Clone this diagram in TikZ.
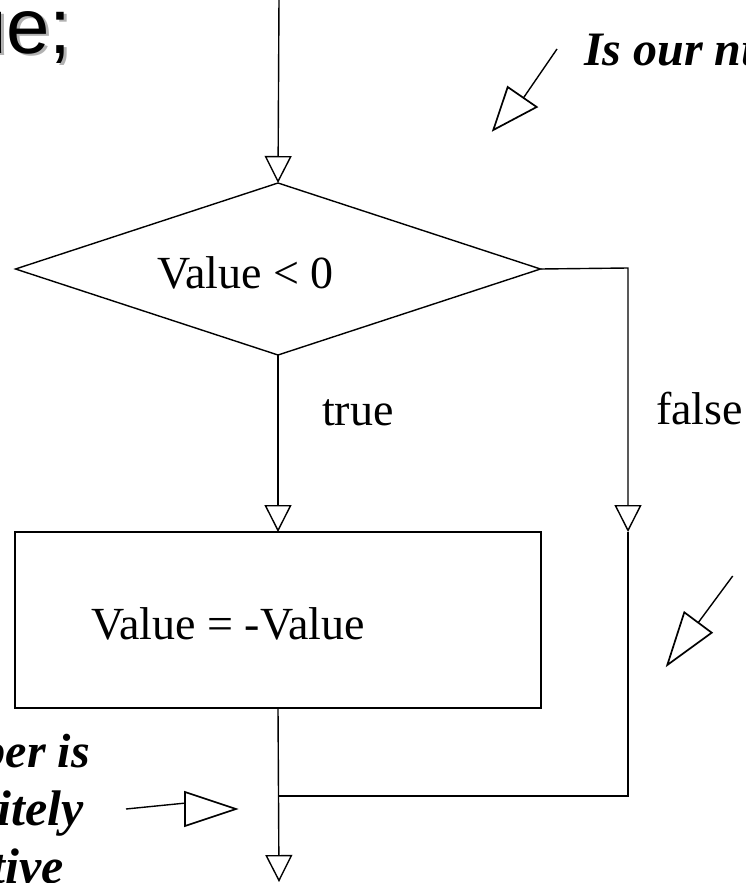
\documentclass[tikz,border=0pt]{standalone}
\usepackage{fontspec}
\setmainfont{Liberation Serif}
\newfontfamily\arialf{Liberation Sans}
\usetikzlibrary{shapes.geometric,arrows.meta}
\tikzset{
  flowline/.style={line width=1.4pt},
  flowtip/.style={-{Triangle[open,length=27pt,width=27pt,line width=1.4pt]}},
  flowtext/.style={inner sep=0pt,font=\fontsize{46}{52}\selectfont},
  notetext/.style={inner sep=0pt,font=\fontsize{50}{58}\selectfont\bfseries\itshape},
  notetextsmall/.style={inner sep=0pt,font=\fontsize{48}{58}\selectfont\bfseries\itshape},
  notetri/.style={line width=1.7pt,fill=white},
}
\begin{document}
\begin{tikzpicture}[x=1pt,y=-1pt]
\useasboundingbox (0,0) rectangle (746,883);
\clip (0,0) rectangle (746,883);
% title fragment with shadow
\node[inner sep=0pt,anchor=base west,text=black!30,font=\fontsize{78}{80}\selectfont\arialf] (titleshadow) at (-34,56) {ue;};
\node[inner sep=0pt,anchor=base west,font=\fontsize{78}{80}\selectfont\arialf] (title) at (-37,53) {ue;};
% shapes
\node[draw,flowline,shape=diamond,inner sep=0pt,outer sep=0pt,minimum width=525pt,minimum height=172pt] (dec) at (278,269) {};
\node[draw,flowline,rectangle,inner sep=0pt,outer sep=0pt,minimum width=526pt,minimum height=176pt] (act) at (278,620) {};
\node[flowtext,anchor=base west] (dectext) at (157,288) {Value < 0};
\node[flowtext,anchor=base west] (acttext) at (91,639) {Value = -Value};
\node[flowtext,anchor=base west] (truelab) at (322,425) {true};
\node[flowtext,anchor=base west] (falselab) at (656,424) {false};
% coordinates
\coordinate (topin) at (279,-2);
\coordinate (rc) at (628,268);
\coordinate (ra) at (628,532);
\coordinate (rj) at (628,796);
\coordinate (mj) at (279,796);
\coordinate (bot) at (279,882);
% connectors
\draw[flowline,flowtip] (topin) -- (dec.north);
\draw[flowline,flowtip] (dec.south) -- (act.north);
\draw[flowline,flowtip] (dec.east) -- (rc) -- (ra);
\draw[flowline] (ra) -- (rj) -- (mj);
\draw[flowline,flowtip] (act.south) -- (bot);
% annotation texts
\node[notetextsmall,anchor=base west] (q) at (584,66) {Is our nu};
\node[notetextsmall,anchor=base east] (n1) at (90,767) {ber is};
\node[notetext,anchor=base east] (n2) at (84,825) {itely};
\node[notetext,anchor=base east] (n3) at (64,883) {tive};
% annotation arrows
\coordinate (a1s) at (557,49);
\coordinate (a1e) at (522,100);
\draw[flowline] (a1s) -- (a1e);
\draw[notetri] (507.7,87) -- (536.7,107) -- (493.3,130) -- cycle;
\coordinate (a2s) at (732.7,576);
\coordinate (a2e) at (695,627);
\draw[flowline] (a2s) -- (a2e);
\draw[notetri] (684.3,612.3) -- (711.7,632.7) -- (667.3,665) -- cycle;
\coordinate (a3s) at (126,809);
\coordinate (a3e) at (186,803);
\draw[flowline] (a3s) -- (a3e);
\draw[notetri] (185,792) -- (185,826) -- (236,809) -- cycle;
\end{tikzpicture}
\end{document}
